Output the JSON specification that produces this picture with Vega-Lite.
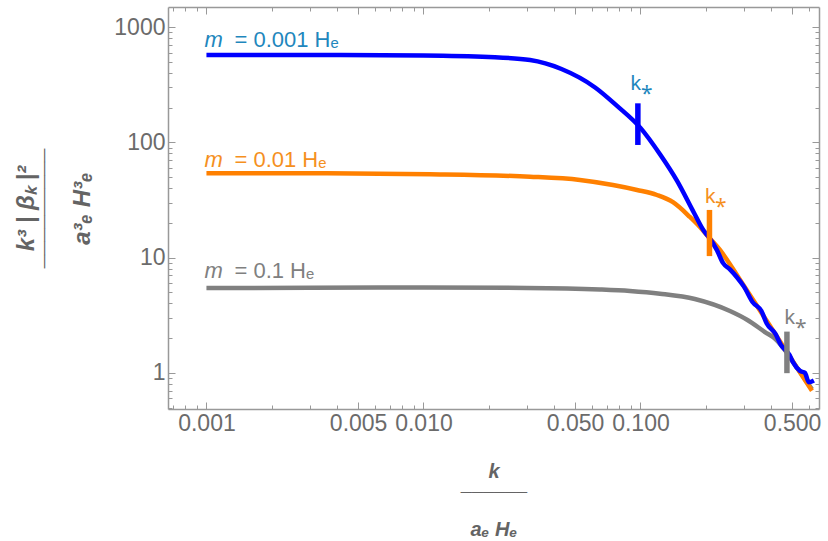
{
  "$schema": "https://vega.github.io/schema/vega-lite/v6.json",
  "width": 651,
  "height": 402,
  "autosize": "none",
  "padding": {"left": 168, "top": 7, "right": 9, "bottom": 132},
  "background": "white",
  "datasets": {
    "curves": [
      {"m": "0.1", "k": 0.001, "v": 5.45},
      {"m": "0.1", "k": 0.003, "v": 5.47},
      {"m": "0.1", "k": 0.01, "v": 5.5},
      {"m": "0.1", "k": 0.03, "v": 5.46},
      {"m": "0.1", "k": 0.0651, "v": 5.29},
      {"m": "0.1", "k": 0.0894, "v": 5.13},
      {"m": "0.1", "k": 0.123, "v": 4.86},
      {"m": "0.1", "k": 0.178, "v": 4.37},
      {"m": "0.1", "k": 0.2585, "v": 3.44},
      {"m": "0.1", "k": 0.3112, "v": 2.875},
      {"m": "0.1", "k": 0.3748, "v": 2.26},
      {"m": "0.1", "k": 0.4189, "v": 1.968},
      {"m": "0.1", "k": 0.4683, "v": 1.533},
      {"m": "0.1", "k": 0.5045, "v": 1.243},
      {"m": "0.1", "k": 0.5433, "v": 1.02},
      {"m": "0.1", "k": 0.617, "v": 0.72},
      {"m": "0.01", "k": 0.001, "v": 53.8},
      {"m": "0.01", "k": 0.003, "v": 53.8},
      {"m": "0.01", "k": 0.01072, "v": 52.8},
      {"m": "0.01", "k": 0.03097, "v": 50.3},
      {"m": "0.01", "k": 0.0526, "v": 47.1},
      {"m": "0.01", "k": 0.0747, "v": 42.6},
      {"m": "0.01", "k": 0.0964, "v": 38.6},
      {"m": "0.01", "k": 0.1191, "v": 34.9},
      {"m": "0.01", "k": 0.1412, "v": 30.2},
      {"m": "0.01", "k": 0.169, "v": 22.5},
      {"m": "0.01", "k": 0.188, "v": 18.4},
      {"m": "0.01", "k": 0.2046, "v": 15.3},
      {"m": "0.01", "k": 0.2325, "v": 11.64},
      {"m": "0.01", "k": 0.2585, "v": 8.75},
      {"m": "0.01", "k": 0.2874, "v": 6.43},
      {"m": "0.01", "k": 0.3112, "v": 5.1},
      {"m": "0.01", "k": 0.3748, "v": 2.98},
      {"m": "0.01", "k": 0.4512, "v": 1.74},
      {"m": "0.01", "k": 0.5433, "v": 1.01},
      {"m": "0.01", "k": 0.617, "v": 0.7},
      {"m": "0.001", "k": 0.001, "v": 572},
      {"m": "0.001", "k": 0.003, "v": 572},
      {"m": "0.001", "k": 0.01, "v": 566},
      {"m": "0.001", "k": 0.02, "v": 549},
      {"m": "0.001", "k": 0.031, "v": 517},
      {"m": "0.001", "k": 0.04325, "v": 432},
      {"m": "0.001", "k": 0.0618, "v": 299},
      {"m": "0.001", "k": 0.078, "v": 207},
      {"m": "0.001", "k": 0.1, "v": 133.4},
      {"m": "0.001", "k": 0.1237, "v": 77.6},
      {"m": "0.001", "k": 0.1473, "v": 46.5},
      {"m": "0.001", "k": 0.1764, "v": 24.5},
      {"m": "0.001", "k": 0.1962, "v": 17.0},
      {"m": "0.001", "k": 0.2046, "v": 15.4},
      {"m": "0.001", "k": 0.2252, "v": 11.6},
      {"m": "0.001", "k": 0.24, "v": 9.0},
      {"m": "0.001", "k": 0.2585, "v": 7.9},
      {"m": "0.001", "k": 0.2784, "v": 6.75},
      {"m": "0.001", "k": 0.2999, "v": 5.6},
      {"m": "0.001", "k": 0.3292, "v": 4.1},
      {"m": "0.001", "k": 0.361, "v": 3.44},
      {"m": "0.001", "k": 0.3819, "v": 2.68},
      {"m": "0.001", "k": 0.4189, "v": 2.18},
      {"m": "0.001", "k": 0.4431, "v": 1.76},
      {"m": "0.001", "k": 0.486, "v": 1.43},
      {"m": "0.001", "k": 0.5045, "v": 1.24},
      {"m": "0.001", "k": 0.5433, "v": 1.04},
      {"m": "0.001", "k": 0.5728, "v": 1.0},
      {"m": "0.001", "k": 0.5965, "v": 0.83},
      {"m": "0.001", "k": 0.63, "v": 0.86}
    ],
    "kstar": [
      {"m": "0.1", "k": 0.4732, "lo": 0.994, "hi": 2.28, "kt": 0.4608, "vt": 2.68},
      {"m": "0.01", "k": 0.208, "lo": 10.3, "hi": 25.9, "kt": 0.1983, "vt": 29.6},
      {"m": "0.001", "k": 0.0973, "lo": 94.8, "hi": 217.8, "kt": 0.09, "vt": 284}
    ],
    "labels": [
      {"m": "0.1", "k": 0.001, "v": 6.65, "rest": "= 0.1 Hₑ"},
      {"m": "0.01", "k": 0.001, "v": 61.1, "rest": "= 0.01 Hₑ"},
      {"m": "0.001", "k": 0.001, "v": 674, "rest": "= 0.001 Hₑ"}
    ]
  },
  "config": {
    "view": {"stroke": null},
    "axis": {
      "grid": false,
      "domainColor": "#999999",
      "domainWidth": 1.5,
      "tickColor": "#999999",
      "tickWidth": 1,
      "labelColor": "#6b6b6b",
      "labelFont": "Liberation Sans",
      "labelFontSize": 23,
      "labelOverlap": false,
      "labelFlush": false,
      "titleColor": "#646464",
      "titleFont": "Liberation Sans",
      "titleFontWeight": "bold",
      "titleFontStyle": "italic"
    }
  },
  "resolve": {
    "axis": {"x": "independent", "y": "independent"},
    "scale": {"color": "independent"}
  },
  "layer": [
    {
      "data": {"name": "curves"},
      "mark": {"type": "line", "opacity": 0},
      "encoding": {
        "x": {
          "field": "k", "type": "quantitative",
          "scale": {"type": "log", "domain": [0.000665, 0.665], "nice": false},
          "axis": {
            "orient": "top", "labels": false, "title": null,
            "values": [0.0007, 0.0008, 0.0009, 0.001, 0.002, 0.003, 0.004, 0.005, 0.006, 0.007, 0.008, 0.009, 0.01, 0.02, 0.03, 0.04, 0.05, 0.06, 0.07, 0.08, 0.09, 0.1, 0.2, 0.3, 0.4, 0.5, 0.6],
            "tickSize": {"condition": {"test": "indexof([0.001,0.005,0.01,0.05,0.1,0.5], datum.value) >= 0", "value": -7}, "value": -4}
          }
        },
        "y": {
          "field": "v", "type": "quantitative",
          "scale": {"type": "log", "domain": [0.486, 1491], "nice": false},
          "axis": {
            "orient": "right", "labels": false, "title": null,
            "values": [0.5, 0.6, 0.7, 0.8, 0.9, 1, 2, 3, 4, 5, 6, 7, 8, 9, 10, 20, 30, 40, 50, 60, 70, 80, 90, 100, 200, 300, 400, 500, 600, 700, 800, 900, 1000],
            "tickSize": {"condition": {"test": "indexof([1,10,100,1000], datum.value) >= 0", "value": -7}, "value": -4}
          }
        }
      }
    },
    {
      "data": {"name": "curves"},
      "transform": [{"filter": "datum.m == '0.1'"}],
      "mark": {"type": "line", "color": "#808080", "strokeWidth": 4.5, "interpolate": "monotone"},
      "encoding": {
        "x": {
          "field": "k", "type": "quantitative",
          "scale": {"type": "log", "domain": [0.000665, 0.665], "nice": false},
          "axis": {
            "orient": "bottom",
            "values": [0.0007, 0.0008, 0.0009, 0.001, 0.002, 0.003, 0.004, 0.005, 0.006, 0.007, 0.008, 0.009, 0.01, 0.02, 0.03, 0.04, 0.05, 0.06, 0.07, 0.08, 0.09, 0.1, 0.2, 0.3, 0.4, 0.5, 0.6],
            "labelExpr": "indexof([0.001,0.005,0.01,0.05,0.1,0.5], datum.value) >= 0 ? format(datum.value, '.3f') : ''",
            "tickSize": {"condition": {"test": "indexof([0.001,0.005,0.01,0.05,0.1,0.5], datum.value) >= 0", "value": -7}, "value": -4},
            "labelPadding": 10,
            "title": ["k", "¯¯¯¯¯¯", "aₑ Hₑ"],
            "titleFontSize": 20,
            "titleLineHeight": 29,
            "titleX": 325.5,
            "titleY": 68,
            "titleAlign": "center",
            "titleBaseline": "alphabetic"
          }
        },
        "y": {
          "field": "v", "type": "quantitative",
          "scale": {"type": "log", "domain": [0.486, 1491], "nice": false},
          "axis": {
            "orient": "left",
            "values": [0.5, 0.6, 0.7, 0.8, 0.9, 1, 2, 3, 4, 5, 6, 7, 8, 9, 10, 20, 30, 40, 50, 60, 70, 80, 90, 100, 200, 300, 400, 500, 600, 700, 800, 900, 1000],
            "labelExpr": "indexof([1,10,100,1000], datum.value) >= 0 ? format(datum.value, 'd') : ''",
            "tickSize": {"condition": {"test": "indexof([1,10,100,1000], datum.value) >= 0", "value": -7}, "value": -4},
            "labelPadding": 10,
            "title": ["k³  |  βₖ  |²", "¯¯¯¯¯¯¯¯¯", "a³ₑ H³ₑ"],
            "titleFontSize": 24,
            "titleLineHeight": 28,
            "titleAngle": -90,
            "titleX": -135,
            "titleY": 201,
            "titleAlign": "center",
            "titleBaseline": "alphabetic"
          }
        }
      }
    },
    {
      "data": {"name": "curves"},
      "transform": [{"filter": "datum.m == '0.01'"}],
      "mark": {"type": "line", "color": "#ff8000", "strokeWidth": 4.5, "interpolate": "monotone"},
      "encoding": {
        "x": {"field": "k", "type": "quantitative", "scale": {"type": "log", "domain": [0.000665, 0.665], "nice": false}, "axis": null},
        "y": {"field": "v", "type": "quantitative", "scale": {"type": "log", "domain": [0.486, 1491], "nice": false}, "axis": null}
      }
    },
    {
      "data": {"name": "curves"},
      "transform": [{"filter": "datum.m == '0.001'"}],
      "mark": {"type": "line", "color": "#0000ff", "strokeWidth": 4.5, "interpolate": "monotone"},
      "encoding": {
        "x": {"field": "k", "type": "quantitative", "scale": {"type": "log", "domain": [0.000665, 0.665], "nice": false}, "axis": null},
        "y": {"field": "v", "type": "quantitative", "scale": {"type": "log", "domain": [0.486, 1491], "nice": false}, "axis": null}
      }
    },
    {
      "data": {"name": "kstar"},
      "mark": {"type": "rule", "strokeWidth": 5.5},
      "encoding": {
        "x": {"field": "k", "type": "quantitative", "scale": {"type": "log", "domain": [0.000665, 0.665], "nice": false}, "axis": null},
        "y": {"field": "lo", "type": "quantitative", "scale": {"type": "log", "domain": [0.486, 1491], "nice": false}, "axis": null},
        "y2": {"field": "hi"},
        "color": {"field": "m", "type": "nominal", "scale": {"domain": ["0.1", "0.01", "0.001"], "range": ["#808080", "#ff8000", "#0000ff"]}, "legend": null}
      }
    },
    {
      "data": {"name": "kstar"},
      "mark": {"type": "text", "align": "left", "baseline": "alphabetic", "font": "Liberation Sans", "fontSize": 21},
      "encoding": {
        "x": {"field": "kt", "type": "quantitative", "scale": {"type": "log", "domain": [0.000665, 0.665], "nice": false}, "axis": null},
        "y": {"field": "vt", "type": "quantitative", "scale": {"type": "log", "domain": [0.486, 1491], "nice": false}, "axis": null},
        "text": {"value": "k⁎"},
        "color": {"field": "m", "type": "nominal", "scale": {"domain": ["0.1", "0.01", "0.001"], "range": ["#808080", "#f5901e", "#1f87bd"]}, "legend": null}
      }
    },
    {
      "data": {"name": "labels"},
      "mark": {"type": "text", "align": "left", "baseline": "alphabetic", "font": "Liberation Sans", "fontSize": 22, "fontStyle": "italic", "dx": -2},
      "encoding": {
        "x": {"field": "k", "type": "quantitative", "scale": {"type": "log", "domain": [0.000665, 0.665], "nice": false}, "axis": null},
        "y": {"field": "v", "type": "quantitative", "scale": {"type": "log", "domain": [0.486, 1491], "nice": false}, "axis": null},
        "text": {"value": "m"},
        "color": {"field": "m", "type": "nominal", "scale": {"domain": ["0.1", "0.01", "0.001"], "range": ["#808080", "#f5901e", "#1f87bd"]}, "legend": null}
      }
    },
    {
      "data": {"name": "labels"},
      "mark": {"type": "text", "align": "left", "baseline": "alphabetic", "font": "Liberation Sans", "fontSize": 22, "dx": 28},
      "encoding": {
        "x": {"field": "k", "type": "quantitative", "scale": {"type": "log", "domain": [0.000665, 0.665], "nice": false}, "axis": null},
        "y": {"field": "v", "type": "quantitative", "scale": {"type": "log", "domain": [0.486, 1491], "nice": false}, "axis": null},
        "text": {"field": "rest"},
        "color": {"field": "m", "type": "nominal", "scale": {"domain": ["0.1", "0.01", "0.001"], "range": ["#808080", "#f5901e", "#1f87bd"]}, "legend": null}
      }
    }
  ]
}
